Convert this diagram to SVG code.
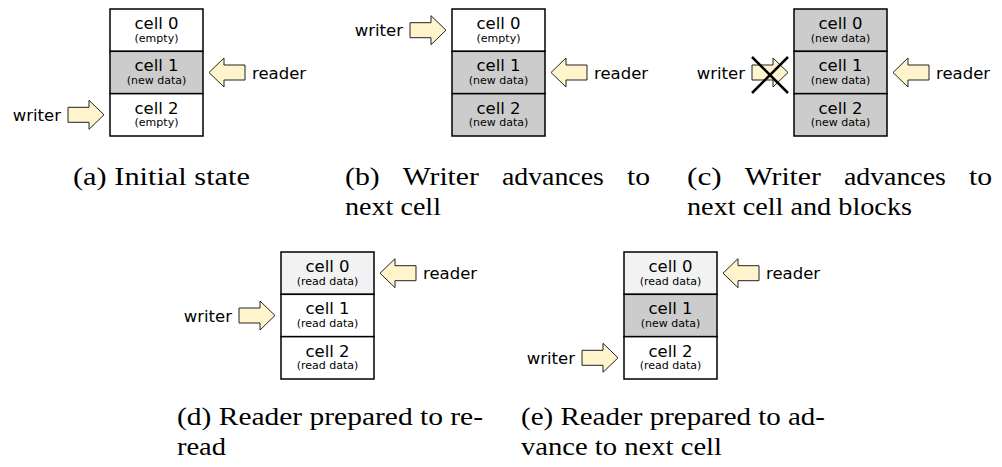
<svg xmlns="http://www.w3.org/2000/svg" xmlns:xlink="http://www.w3.org/1999/xlink" width="1002" height="467" viewBox="0 0 1002 467">
  <style>
    .cell { stroke: #000; stroke-width: 1.5; }
    .empty { fill: #ffffff; }
    .new { fill: #cccccc; }
    .read { fill: #f2f2f2; }
    .lbl { font-family: "DejaVu Sans", sans-serif; font-size: 16.5px; fill: #000; text-anchor: middle; }
    .sub { font-size: 11px; }
    .tag { font-family: "DejaVu Sans", sans-serif; font-size: 16.5px; fill: #000; }
    .end { text-anchor: end; }
    .ptr { fill: #fff4cc; stroke: #222; stroke-width: 1; stroke-linejoin: miter; }
    .block { stroke: #000; stroke-width: 2.5; fill: none; }
    .cap { font-family: "Liberation Serif", "Times New Roman", serif; font-size: 26px; fill: #000; }
  </style>
  <defs>
    <!-- block arrows, origin at the tip -->
    <path id="toR" class="ptr" d="M0 0 L-15 -14.5 L-15 -7.5 L-36 -7.5 L-36 7.5 L-15 7.5 L-15 14.5 Z"/>
    <path id="toL" class="ptr" d="M0 0 L15 -14.5 L15 -7.5 L36 -7.5 L36 7.5 L15 7.5 L15 14.5 Z"/>
  </defs>

  <!-- (a) initial state -->
  <g id="buffer-a">
    <g id="a-cell0"><rect class="cell empty" x="110" y="9" width="93" height="42.33"/><text class="lbl" x="156.5" y="29">cell 0</text><text class="lbl sub" x="156.5" y="41.5">(empty)</text></g>
    <g id="a-cell1"><rect class="cell new" x="110" y="51.33" width="93" height="42.33"/><text class="lbl" x="156.5" y="71.33">cell 1</text><text class="lbl sub" x="156.5" y="83.83">(new data)</text></g>
    <g id="a-cell2"><rect class="cell empty" x="110" y="93.67" width="93" height="42.33"/><text class="lbl" x="156.5" y="113.67">cell 2</text><text class="lbl sub" x="156.5" y="126.17">(empty)</text></g>
  </g>

  <!-- (b) writer advances -->
  <g id="buffer-b">
    <g id="b-cell0"><rect class="cell empty" x="452" y="9" width="93" height="42.33"/><text class="lbl" x="498.5" y="29">cell 0</text><text class="lbl sub" x="498.5" y="41.5">(empty)</text></g>
    <g id="b-cell1"><rect class="cell new" x="452" y="51.33" width="93" height="42.33"/><text class="lbl" x="498.5" y="71.33">cell 1</text><text class="lbl sub" x="498.5" y="83.83">(new data)</text></g>
    <g id="b-cell2"><rect class="cell new" x="452" y="93.67" width="93" height="42.33"/><text class="lbl" x="498.5" y="113.67">cell 2</text><text class="lbl sub" x="498.5" y="126.17">(new data)</text></g>
  </g>

  <!-- (c) writer blocks -->
  <g id="buffer-c">
    <g id="c-cell0"><rect class="cell new" x="794" y="9" width="93" height="42.33"/><text class="lbl" x="840.5" y="29">cell 0</text><text class="lbl sub" x="840.5" y="41.5">(new data)</text></g>
    <g id="c-cell1"><rect class="cell new" x="794" y="51.33" width="93" height="42.33"/><text class="lbl" x="840.5" y="71.33">cell 1</text><text class="lbl sub" x="840.5" y="83.83">(new data)</text></g>
    <g id="c-cell2"><rect class="cell new" x="794" y="93.67" width="93" height="42.33"/><text class="lbl" x="840.5" y="113.67">cell 2</text><text class="lbl sub" x="840.5" y="126.17">(new data)</text></g>
  </g>

  <!-- (d) reader re-reads -->
  <g id="buffer-d">
    <g id="d-cell0"><rect class="cell read" x="281" y="252" width="93" height="42.33"/><text class="lbl" x="327.5" y="272">cell 0</text><text class="lbl sub" x="327.5" y="284.5">(read data)</text></g>
    <g id="d-cell1"><rect class="cell empty" x="281" y="294.33" width="93" height="42.33"/><text class="lbl" x="327.5" y="314.33">cell 1</text><text class="lbl sub" x="327.5" y="326.83">(read data)</text></g>
    <g id="d-cell2"><rect class="cell empty" x="281" y="336.67" width="93" height="42.33"/><text class="lbl" x="327.5" y="356.67">cell 2</text><text class="lbl sub" x="327.5" y="369.17">(read data)</text></g>
  </g>

  <!-- (e) reader advances -->
  <g id="buffer-e">
    <g id="e-cell0"><rect class="cell read" x="624" y="252" width="93" height="42.33"/><text class="lbl" x="670.5" y="272">cell 0</text><text class="lbl sub" x="670.5" y="284.5">(read data)</text></g>
    <g id="e-cell1"><rect class="cell new" x="624" y="294.33" width="93" height="42.33"/><text class="lbl" x="670.5" y="314.33">cell 1</text><text class="lbl sub" x="670.5" y="326.83">(new data)</text></g>
    <g id="e-cell2"><rect class="cell empty" x="624" y="336.67" width="93" height="42.33"/><text class="lbl" x="670.5" y="356.67">cell 2</text><text class="lbl sub" x="670.5" y="369.17">(read data)</text></g>
  </g>

  <!-- writer / reader pointers -->
  <g id="connectors">
    <use href="#toR" x="104" y="114.8"/><text class="tag end" x="61" y="120.8">writer</text>
    <use href="#toL" x="209" y="72.5"/><text class="tag" x="252" y="78.5">reader</text>

    <use href="#toR" x="446" y="30.2"/><text class="tag end" x="403" y="36.2">writer</text>
    <use href="#toL" x="551" y="72.5"/><text class="tag" x="594" y="78.5">reader</text>

    <use href="#toR" x="788" y="72.5"/><text class="tag end" x="745" y="78.5">writer</text>
    <path class="block" d="M752 57 L788 93 M788 57 L752 93"/>
    <use href="#toL" x="893" y="72.5"/><text class="tag" x="936" y="78.5">reader</text>

    <use href="#toL" x="380" y="273.2"/><text class="tag" x="423" y="279.2">reader</text>
    <use href="#toR" x="275" y="315.5"/><text class="tag end" x="232" y="321.5">writer</text>

    <use href="#toL" x="723" y="273.2"/><text class="tag" x="766" y="279.2">reader</text>
    <use href="#toR" x="618" y="357.8"/><text class="tag end" x="575" y="363.8">writer</text>
  </g>

  <!-- captions -->
  <g id="captions">
    <text class="cap" x="73" y="185" textLength="177" lengthAdjust="spacingAndGlyphs">(a) Initial state</text>

    <text class="cap" y="185"><tspan x="345" textLength="34.7" lengthAdjust="spacingAndGlyphs">(b)</tspan><tspan x="402.8" textLength="76" lengthAdjust="spacingAndGlyphs">Writer</tspan><tspan x="501.9" textLength="102" lengthAdjust="spacingAndGlyphs">advances</tspan><tspan x="627" textLength="23.1" lengthAdjust="spacingAndGlyphs">to</tspan></text>
    <text class="cap" x="345" y="215" textLength="96" lengthAdjust="spacingAndGlyphs">next cell</text>

    <text class="cap" y="185"><tspan x="687" textLength="34.7" lengthAdjust="spacingAndGlyphs">(c)</tspan><tspan x="744.8" textLength="76" lengthAdjust="spacingAndGlyphs">Writer</tspan><tspan x="843.9" textLength="102" lengthAdjust="spacingAndGlyphs">advances</tspan><tspan x="969" textLength="23.1" lengthAdjust="spacingAndGlyphs">to</tspan></text>
    <text class="cap" x="687" y="215" textLength="225" lengthAdjust="spacingAndGlyphs">next cell and blocks</text>

    <text class="cap" x="177" y="425" textLength="306" lengthAdjust="spacingAndGlyphs">(d) Reader prepared to re-</text>
    <text class="cap" x="177" y="455" textLength="49" lengthAdjust="spacingAndGlyphs">read</text>

    <text class="cap" x="521" y="425" textLength="304" lengthAdjust="spacingAndGlyphs">(e) Reader prepared to ad-</text>
    <text class="cap" x="521" y="455" textLength="201" lengthAdjust="spacingAndGlyphs">vance to next cell</text>
  </g>
</svg>
